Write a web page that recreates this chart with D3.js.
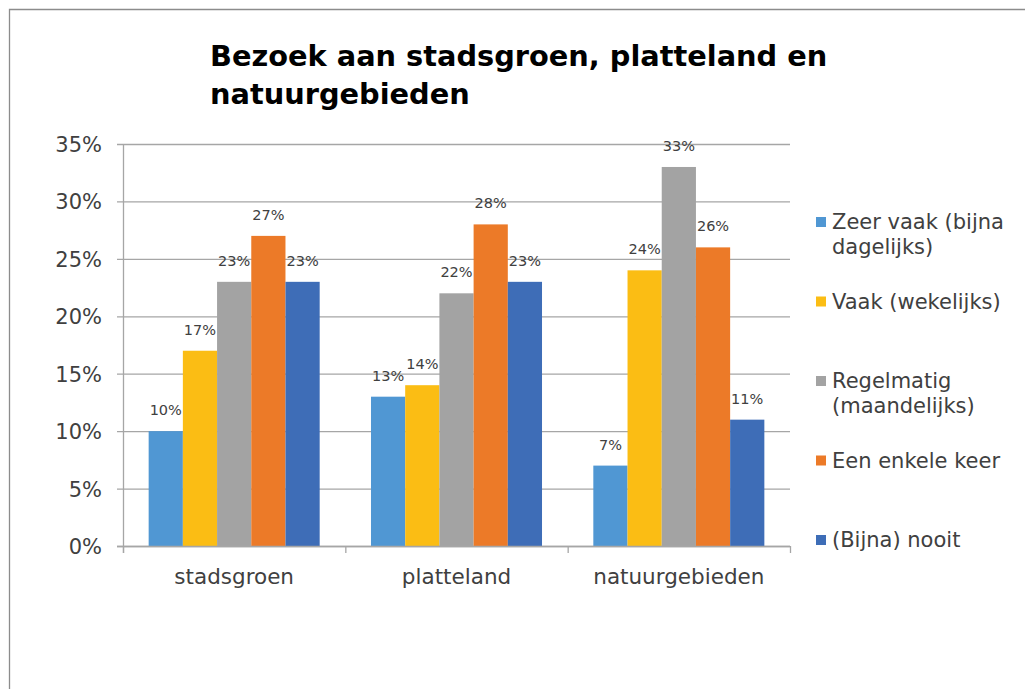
<!DOCTYPE html>
<html>
<head>
<meta charset="utf-8">
<script src="https://cdn.jsdelivr.net/npm/d3@7"></script>
<style>
  html, body { margin: 0; background: #fff; overflow: hidden; }
  svg { display: block; }
  .ticktxt { font-family: "DejaVu Sans", Verdana, sans-serif; fill: #404040; }
</style>
</head>
<body>
<div id="chart"></div>
<script>
// data
const categories = ["stadsgroen", "platteland", "natuurgebieden"];
const seriesNames = ["Zeer vaak (bijna dagelijks)", "Vaak (wekelijks)", "Regelmatig (maandelijks)", "Een enkele keer", "(Bijna) nooit"];
// legend lines (wrapped as in the picture)
const legendLines = [["Zeer vaak (bijna", "dagelijks)"], ["Vaak (wekelijks)"], ["Regelmatig", "(maandelijks)"], ["Een enkele keer"], ["(Bijna) nooit"]];
const zeerVaak   = [0.10, 0.13, 0.07];
const vaak       = [0.17, 0.14, 0.24];
const regelmatig = [0.23, 0.22, 0.33];
const enkeleKeer = [0.27, 0.28, 0.26];
const nooit      = [0.23, 0.23, 0.11];
const yTicks = [0, 0.05, 0.10, 0.15, 0.20, 0.25, 0.30, 0.35];
const titleLines = ["Bezoek aan stadsgroen, platteland en", "natuurgebieden"];

const colors = ["#5097d3", "#fbbd14", "#a3a3a3", "#ec7a28", "#3e6db7"];
const seriesValues = [zeerVaak, vaak, regelmatig, enkeleKeer, nooit];

// rijen per categorie
const rows = categories.map((c, i) => ({
  cat: c,
  vals: seriesValues.map((s, k) => ({ key: k, v: s[i] }))
}));

const W = 1025, H = 689;
const plot = { left: 123, right: 790, top: 144, bottom: 546 };

const svg = d3.select("#chart").append("svg")
  .attr("width", W)
  .attr("height", H);

// kader
svg.append("path")
  .attr("d", `M9.5,${H + 2} L9.5,9.5 L${W + 2},9.5`)
  .attr("fill", "none")
  .attr("stroke", "#8c8c8c")
  .attr("stroke-width", 1.3);

// titel
svg.append("text")
  .attr("x", 210)
  .attr("y", 66)
  .attr("font-family", "'DejaVu Sans', Verdana, sans-serif")
  .attr("font-weight", "bold")
  .attr("font-size", "28.8px")
  .attr("fill", "#000")
  .selectAll("tspan").data(titleLines)
  .join("tspan")
  .attr("x", 210)
  .attr("dy", (d, i) => i === 0 ? 0 : 38)
  .text(d => d);

const y = d3.scaleLinear().domain([0, 0.35]).range([plot.bottom, plot.top]);
const x0 = d3.scaleBand().domain(categories).range([plot.left, plot.right]);
const x1 = d3.scaleBand().domain(d3.range(seriesNames.length))
  .range([0, x0.bandwidth()])
  .paddingInner(0)
  .paddingOuter(0.75);

// rasterlijnen + y labels
const grid = svg.append("g")
  .attr("transform", `translate(${plot.right},0)`)
  .call(d3.axisLeft(y).tickValues(yTicks).tickFormat(d3.format(".0%")).tickSize(plot.right - plot.left + 6).tickPadding(15));
grid.select(".domain").remove();
grid.selectAll(".tick line").attr("stroke", "#a6a6a6").attr("stroke-width", 1.3);
grid.selectAll(".tick text")
  .attr("class", "ticktxt")
  .attr("font-size", "21px")
  .attr("dy", "0.36em");

// y-as lijn
svg.append("line")
  .attr("x1", plot.left + 0.5).attr("x2", plot.left + 0.5)
  .attr("y1", plot.top).attr("y2", plot.bottom + 7)
  .attr("stroke", "#a6a6a6").attr("stroke-width", 1.3);

// balken
const groups = svg.append("g").selectAll("g").data(rows)
  .join("g")
  .attr("transform", d => `translate(${x0(d.cat)},0)`);

groups.selectAll("rect").data(d => d.vals)
  .join("rect")
  .attr("x", d => x1(d.key))
  .attr("width", x1.bandwidth())
  .attr("y", d => y(d.v))
  .attr("height", d => y(0) - y(d.v))
  .attr("fill", d => colors[d.key]);

groups.selectAll("text").data(d => d.vals)
  .join("text")
  .attr("x", d => x1(d.key) + x1.bandwidth() / 2)
  .attr("y", d => y(d.v) - 16)
  .attr("text-anchor", "middle")
  .attr("font-family", "'DejaVu Sans', Verdana, sans-serif")
  .attr("font-size", "14.5px")
  .attr("fill", "#404040")
  .text(d => d3.format(".0%")(d.v));

// x-as
const xAxis = svg.append("g")
  .attr("transform", `translate(0,${plot.bottom})`)
  .call(d3.axisBottom(x0).tickSize(0).tickPadding(0));
xAxis.select(".domain").remove();
xAxis.selectAll(".tick text")
  .attr("class", "ticktxt")
  .attr("font-size", "21.5px")
  .attr("y", 38)
  .attr("dy", 0);

svg.append("line")
  .attr("x1", plot.left - 6).attr("x2", plot.right)
  .attr("y1", plot.bottom + 0.5).attr("y2", plot.bottom + 0.5)
  .attr("stroke", "#a6a6a6").attr("stroke-width", 1.3);

// categoriegrenzen
const bounds = categories.map(c => x0(c)).concat([x0.range()[1]]);
svg.append("g").selectAll("line").data(bounds)
  .join("line")
  .attr("x1", d => d + 0.5).attr("x2", d => d + 0.5)
  .attr("y1", plot.bottom).attr("y2", plot.bottom + 7)
  .attr("stroke", "#a6a6a6").attr("stroke-width", 1.3);

// legenda
const legendY = d3.scalePoint().domain(d3.range(seriesNames.length)).range([229, 547]);
const legend = svg.append("g").selectAll("g").data(legendLines)
  .join("g")
  .attr("transform", (d, i) => `translate(816,${legendY(i)})`);

legend.append("rect")
  .attr("x", 0).attr("y", -12)
  .attr("width", 10).attr("height", 10)
  .attr("fill", (d, i) => colors[i]);

legend.append("text")
  .attr("class", "ticktxt")
  .attr("font-size", "21px")
  .attr("fill", "#404040")
  .selectAll("tspan").data(d => d)
  .join("tspan")
  .attr("x", 16)
  .attr("y", (d, i) => i * 24.5)
  .text(d => d);
</script>
</body>
</html>
